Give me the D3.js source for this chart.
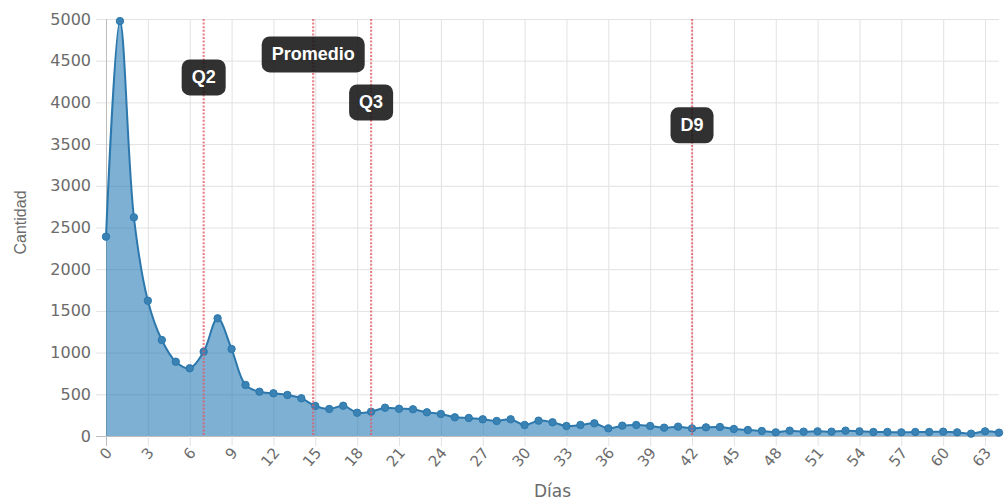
<!DOCTYPE html>
<html>
<head>
<meta charset="utf-8">
<script src="https://cdn.jsdelivr.net/npm/d3@7"></script>
<style>
  html, body { margin: 0; padding: 0; background: #fff; }
  svg { display: block; }
</style>
</head>
<body>
<svg id="chart" width="1006" height="502"></svg>
<script>
// ---- data ----
const days = d3.range(0, 65);
const counts = [
  2390, 4975, 2622, 1622, 1151, 891, 812, 1011, 1411, 1043,
  612, 531, 512, 492, 452, 360, 324, 363, 279, 291,
  339, 327, 320, 284, 264, 224, 216, 200, 180, 200,
  132, 184, 164, 120, 132, 152, 92, 124, 132, 120,
  100, 112, 92, 104, 108, 84, 72, 60, 44, 64,
  52, 56, 52, 64, 56, 48, 48, 44, 48, 48,
  52, 44, 28, 56, 40
];
const yTicks = d3.range(0, 5001, 500);
const xTicks = d3.range(0, 64, 3);
const markerNames = ["Q2", "Promedio", "Q3", "D9"];
const markerDays = [7, 14.85, 19, 42];
const markerLabelY = [4300, 4575, 4000, 3725];

// ---- layout ----
(function () {
const svg = d3.select("#chart");
const mLeft = 106, mRight = 999, mTop = 19, mBottom = 436;
const x = d3.scaleLinear().domain([0, 64]).range([mLeft, mRight]);
const y = d3.scaleLinear().domain([0, 5000]).range([mBottom, mTop]);

const gridColor = "#e2e2e2";
const zeroColor = "#bdbdbd";
const tickColor = "#6b6b6b";

// horizontal grid + y ticks
const gy = svg.append("g");
gy.selectAll("line").data(yTicks).join("line")
  .attr("x1", mLeft - 10).attr("x2", mRight)
  .attr("y1", d => y(d) + 0.5).attr("y2", d => y(d) + 0.5)
  .attr("stroke", d => d === 0 ? zeroColor : gridColor).attr("stroke-width", 1);
gy.selectAll("text").data(yTicks).join("text")
  .attr("x", mLeft - 15).attr("y", d => y(d))
  .attr("text-anchor", "end").attr("dominant-baseline", "central")
  .attr("font-family", "DejaVu Sans, sans-serif").attr("font-size", 16)
  .attr("fill", tickColor).text(d => d);

// vertical grid + x ticks
const gx = svg.append("g");
gx.selectAll("line").data(xTicks).join("line")
  .attr("x1", d => x(d) + 0.5).attr("x2", d => x(d) + 0.5)
  .attr("y1", mTop).attr("y2", mBottom + 10)
  .attr("stroke", d => d === 0 ? zeroColor : gridColor).attr("stroke-width", 1);
gx.selectAll("text").data(xTicks).join("text")
  .attr("transform", d => `translate(${x(d) + 3},${mBottom + 14}) rotate(-50)`)
  .attr("text-anchor", "end").attr("dominant-baseline", "central")
  .attr("font-family", "DejaVu Sans, sans-serif").attr("font-size", 15)
  .attr("fill", tickColor).text(d => d);

// axis titles
svg.append("text")
  .attr("x", (mLeft + mRight) / 2).attr("y", 497)
  .attr("text-anchor", "middle")
  .attr("font-family", "DejaVu Sans, sans-serif").attr("font-size", 17)
  .attr("fill", tickColor).text("Días");
svg.append("text")
  .attr("transform", `translate(26,${(mTop + mBottom) / 2 - 5}) rotate(-90)`)
  .attr("text-anchor", "middle")
  .attr("font-family", "Liberation Sans, Arial, sans-serif").attr("font-size", 16)
  .attr("fill", tickColor).text("Cantidad");

// area + line
const pts = days.map((d, i) => [d, counts[i]]);
const curve = d3.curveCatmullRom.alpha(0.5);
svg.append("path").datum(pts)
  .attr("d", d3.area().x(d => x(d[0])).y0(y(0)).y1(d => y(d[1])).curve(curve))
  .attr("fill", "rgba(31,119,180,0.58)");
svg.append("path").datum(pts)
  .attr("d", d3.line().x(d => x(d[0])).y(d => y(d[1])).curve(curve))
  .attr("fill", "none").attr("stroke", "#2c78ad").attr("stroke-width", 2);
svg.append("g").selectAll("circle").data(pts).join("circle")
  .attr("cx", d => x(d[0])).attr("cy", d => y(d[1])).attr("r", 3.7)
  .attr("fill", "#3a82b4").attr("stroke", "#2c78ad").attr("stroke-width", 1);

// annotation lines
const ga = svg.append("g");
ga.selectAll("line").data(markerDays).join("line")
  .attr("x1", d => x(d)).attr("x2", d => x(d))
  .attr("y1", mTop).attr("y2", mBottom)
  .attr("stroke", "rgba(225,90,100,0.75)").attr("stroke-width", 2.2)
  .attr("stroke-dasharray", "2,1.6");

// annotation labels
const gl = svg.append("g");
markerNames.forEach((name, i) => {
  const g = gl.append("g").attr("transform", `translate(${x(markerDays[i])},${y(markerLabelY[i])})`);
  const rect = g.append("rect");
  const t = g.append("text")
    .attr("text-anchor", "middle").attr("dominant-baseline", "central")
    .attr("font-family", "Liberation Sans, Arial, sans-serif").attr("font-weight", "bold")
    .attr("font-size", 18).attr("fill", "#fff").text(name);
  const w = t.node().getComputedTextLength() + 20;
  const h = 36;
  rect.attr("x", -w / 2).attr("y", -h / 2).attr("width", w).attr("height", h)
    .attr("rx", 8).attr("ry", 8).attr("fill", "rgba(20,20,20,0.88)");
});
})();
</script>
</body>
</html>
